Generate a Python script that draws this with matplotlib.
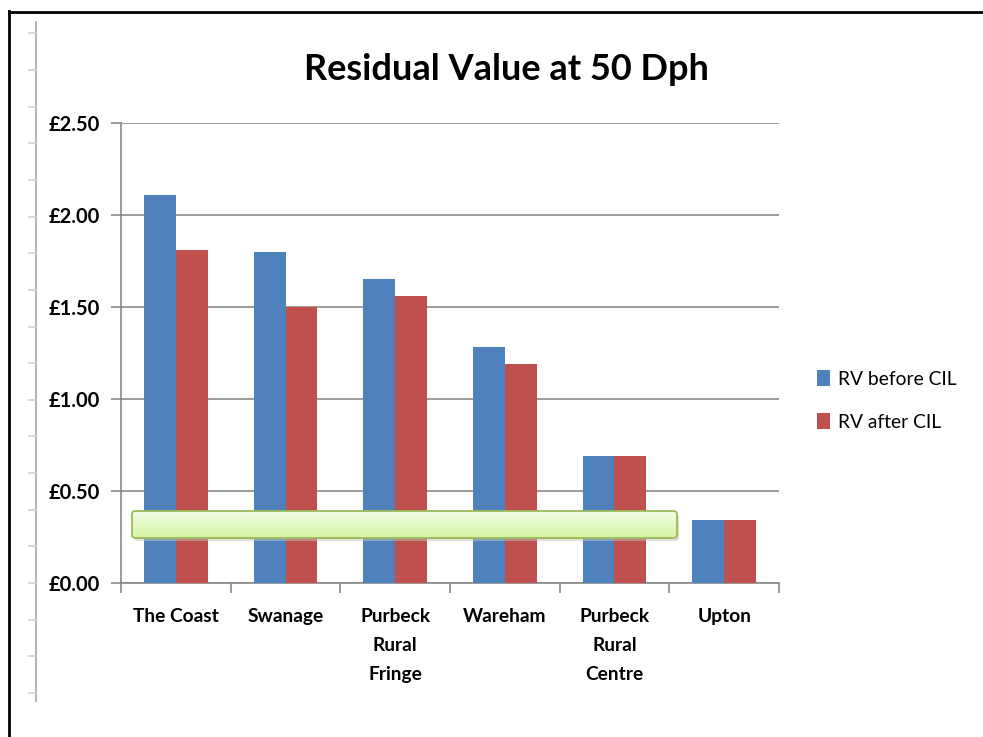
import matplotlib
matplotlib.use("Agg")
import matplotlib.pyplot as plt
import numpy as np
from matplotlib.patches import FancyBboxPatch
from matplotlib.lines import Line2D

categories = ["The Coast", "Swanage", "Purbeck\nRural\nFringe", "Wareham",
              "Purbeck\nRural\nCentre", "Upton"]
rv_before = [2.11, 1.80, 1.65, 1.28, 0.69, 0.34]
rv_after = [1.81, 1.50, 1.56, 1.19, 0.69, 0.34]
y_ticks = [0.0, 0.5, 1.0, 1.5, 2.0, 2.5]
y_tick_labels = ["£0.00", "£0.50", "£1.00", "£1.50", "£2.00", "£2.50"]
series_names = ["RV before CIL", "RV after CIL"]
title = "Residual Value at 50 Dph"

BLUE = "#4F81BD"
RED = "#C0504D"
GRID = "#8a8a8a"
FONT = ["Lato", "DejaVu Sans"]

W, H = 983, 737
fig = plt.figure(figsize=(W / 100, H / 100), dpi=100)
fig.patch.set_facecolor("white")

def fx(px):
    return px / W

def fy(py):
    return 1 - py / H

# outer black frame (left and top edges visible)
fig.add_artist(Line2D([fx(9), fx(9)], [fy(11), 0], transform=fig.transFigure,
                      color="black", lw=2))
fig.add_artist(Line2D([fx(9), 1], [fy(11.5), fy(11.5)], transform=fig.transFigure,
                      color="black", lw=2))
# ruler decoration on the left
fig.add_artist(Line2D([fx(36), fx(36)], [fy(22), fy(701)], transform=fig.transFigure,
                      color="#a6a6a6", lw=1.2))
for i in range(19):
    yy = 33.3 + i * 36.65
    fig.add_artist(Line2D([fx(29), fx(36)], [fy(yy), fy(yy)], transform=fig.transFigure,
                          color="#c8d0e0", lw=1.2))

ax = fig.add_axes([fx(121), fy(583), fx(779) - fx(121), (583 - 123) / H])
x = np.arange(len(categories))
bw = 0.29
ax.bar(x - bw / 2, rv_before, width=bw, color=BLUE, label=series_names[0], zorder=3)
ax.bar(x + bw / 2, rv_after, width=bw, color=RED, label=series_names[1], zorder=3)

ax.set_xlim(-0.5, len(categories) - 0.5)
ax.set_ylim(0, 2.5)
ax.set_yticks(y_ticks)
ax.set_yticklabels(y_tick_labels, fontfamily=FONT, fontweight="bold", fontsize=14.5)
ax.yaxis.grid(True, color=GRID, lw=1.2, zorder=0)
ax.set_axisbelow(True)
ax.tick_params(axis="y", length=7, width=1.2, color=GRID, pad=8)

ax.set_xticks(x)
ax.set_xticklabels(categories, fontfamily=FONT, fontweight="bold", fontsize=13.8,
                   linespacing=1.85, va="top")
ax.set_xticks(np.arange(-0.5, len(categories)), minor=True)
ax.tick_params(axis="x", which="major", length=0, pad=18)
ax.tick_params(axis="x", which="minor", length=7, width=1.2, color=GRID)

for s in ["top", "right"]:
    ax.spines[s].set_visible(False)
for s in ["left", "bottom"]:
    ax.spines[s].set_color(GRID)
    ax.spines[s].set_linewidth(1.2)

fig.text(fx(506), fy(69), title, ha="center", va="center", fontfamily=FONT,
         fontweight="bold", fontsize=26)

leg = fig.legend(loc="upper left", bbox_to_anchor=(fx(800), fy(353)),
                 frameon=False, prop={"family": FONT, "size": 13.9},
                 handlelength=0.65, handleheight=0.85, handletextpad=0.4,
                 labelspacing=1.32)

# green overlay box with gradient
bx0, bx1, by0, by1 = 132, 677, 511, 538
shadow = FancyBboxPatch((fx(bx0 + 2), fy(by1 + 3)), fx(bx1 - bx0), (by1 - by0) / H,
                        boxstyle="round,pad=0,rounding_size=0.004",
                        transform=fig.transFigure, facecolor="#bfbfbf", edgecolor="none",
                        alpha=0.5, zorder=5)
fig.add_artist(shadow)
box = FancyBboxPatch((fx(bx0), fy(by1)), fx(bx1 - bx0), (by1 - by0) / H,
                     boxstyle="round,pad=0,rounding_size=0.004",
                     transform=fig.transFigure, facecolor="none", edgecolor="#9bbb59",
                     lw=1.3, zorder=7)
grad = np.linspace(0, 1, 64).reshape(-1, 1)
top_c = np.array([0.95, 0.99, 0.90])
bot_c = np.array([0.84, 0.96, 0.64])
img = top_c[None, None, :] * (1 - grad[..., None]) + bot_c[None, None, :] * grad[..., None]
img = np.repeat(img, 2, axis=1)
iax = fig.add_axes([fx(bx0), fy(by1), fx(bx1 - bx0), (by1 - by0) / H], zorder=6)
iax.imshow(img, aspect="auto", extent=[0, 1, 0, 1], origin="upper")
iax.set_axis_off()
fill = FancyBboxPatch((fx(bx0), fy(by1)), fx(bx1 - bx0), (by1 - by0) / H,
                      boxstyle="round,pad=0,rounding_size=0.004",
                      transform=fig.transFigure, facecolor="none", edgecolor="none")
fig.add_artist(fill)
iax.images[0].set_clip_path(fill)
fig.add_artist(box)

fig.savefig("out.png", dpi=100, facecolor="white")
